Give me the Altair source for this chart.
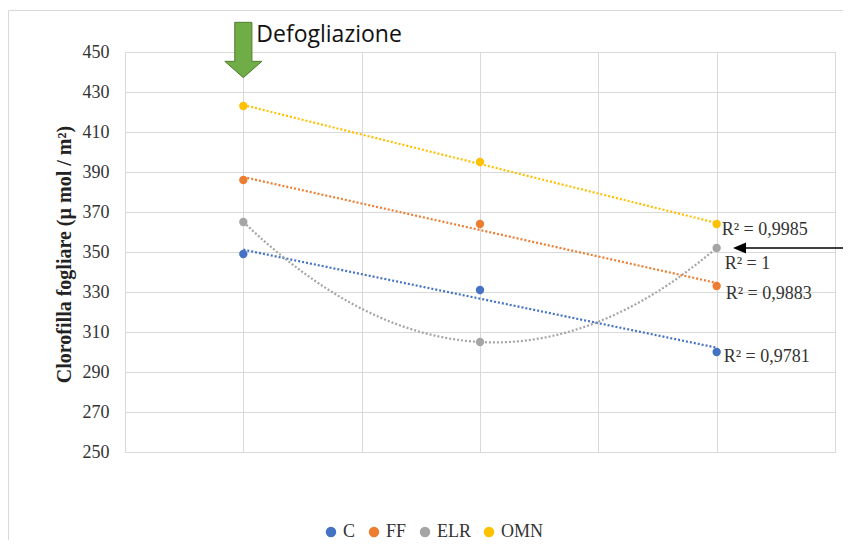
import altair as alt
import pandas as pd

# ---- data ----
series = ["C", "FF", "ELR", "OMN"]
colors = ["#4472C4", "#ED7D31", "#A5A5A5", "#FFC000"]
x_pos = [1, 3, 5]
c_vals = [349, 331, 300]
ff_vals = [386, 364, 333]
elr_vals = [365, 305, 352]
omn_vals = [423, 395, 364]
r2_labels = ["R² = 0,9781", "R² = 0,9883", "R² = 1", "R² = 0,9985"]
y_ticks = [250, 270, 290, 310, 330, 350, 370, 390, 410, 430, 450]
x_grid = [0, 1, 2, 3, 4, 5, 6]
y_title = "Clorofilla fogliare (µ mol / m²)"
annotation_text = "Defogliazione"

rows = []
for s, vals in zip(series, [c_vals, ff_vals, elr_vals, omn_vals]):
    for xv, v in zip(x_pos, vals):
        rows.append({"serie": s, "x": xv, "y": v})
df = pd.DataFrame(rows)
lab_df = pd.DataFrame({"serie": series, "r2": r2_labels})

SERIF = "Liberation Serif"
GRID = "#d9d9d9"

xscale = alt.Scale(domain=[0, 6], nice=False)
yscale = alt.Scale(domain=[250, 450], nice=False, zero=False)
xaxis = alt.Axis(values=x_grid, labels=False, ticks=False, domain=False,
                 grid=True, gridColor=GRID, title=None, labelOverlap=False)
yaxis = alt.Axis(values=y_ticks, ticks=False, domain=False, grid=True,
                 gridColor=GRID, labelFont=SERIF, labelFontSize=18,
                 labelColor="#333333", labelPadding=16, labelOverlap=False,
                 title=y_title, titleFont=SERIF, titleFontSize=20,
                 titleFontWeight="bold", titleColor="#222222",
                 titleAngle=-90, titleX=-61, titleY=202,
                 titleAlign="center", titleBaseline="middle")


def X():
    return alt.X("x:Q", scale=xscale, axis=xaxis)


def Y():
    return alt.Y("y:Q", scale=yscale, axis=yaxis)


cscale = alt.Scale(domain=series, range=colors)

base = alt.Chart(df)

points = base.mark_point(filled=True, size=70, opacity=1).encode(
    x=X(), y=Y(),
    color=alt.Color("serie:N", scale=cscale,
                    legend=alt.Legend(title=None, orient="none", direction="horizontal",
                                      legendX=197, legendY=471, symbolType="circle",
                                      symbolSize=80, labelFont=SERIF, labelFontSize=18,
                                      labelColor="#333333", labelOffset=3,
                                      columnPadding=9, padding=0))
)

lin = base.transform_filter(
    alt.FieldOneOfPredicate(field="serie", oneOf=["C", "FF", "OMN"])
).transform_regression("x", "y", method="linear", groupby=["serie"]).mark_line(
    strokeDash=[2, 2], strokeWidth=2.2
).encode(x=X(), y=Y(), color=alt.Color("serie:N", scale=cscale, legend=None))

poly = base.transform_filter(
    alt.FieldEqualPredicate(field="serie", equal="ELR")
).transform_regression("x", "y", method="poly", order=2, groupby=["serie"]).mark_line(
    strokeDash=[2, 2], strokeWidth=2.2
).encode(x=X(), y=Y(), color=alt.Color("serie:N", scale=cscale, legend=None))

# R² labels next to the last point of each series
offsets = {"C": (7, 5), "FF": (9, 8), "ELR": (8, 16), "OMN": (5, 6)}
label_layers = []
for s in series:
    dx, dy = offsets[s]
    label_layers.append(
        base.transform_filter(alt.datum.x == x_pos[-1])
        .transform_filter(alt.FieldEqualPredicate(field="serie", equal=s))
        .transform_lookup(lookup="serie", from_=alt.LookupData(lab_df, "serie", ["r2"]))
        .mark_text(align="left", baseline="middle", dx=dx, dy=dy, font=SERIF,
                   fontSize=18, color="#333333")
        .encode(x=X(), y=Y(), text="r2:N")
    )

# Green arrow + "Defogliazione"
ann_df = pd.DataFrame({"x": [x_pos[0]], "t": [annotation_text]})
arrow_path = "M -0.31 -1 L 0.31 -1 L 0.31 0.41 L 0.67 0.41 L 0 1 L -0.67 0.41 L -0.31 0.41 Z"
green = alt.Chart(ann_df).mark_point(shape=arrow_path, size=3060, filled=True,
                                     fill="#70AD47", stroke="#4E7D30", strokeWidth=1,
                                     opacity=1).encode(x=X(), y=alt.value(-2))
defo = alt.Chart(ann_df).mark_text(align="left", baseline="alphabetic", dx=13,
                                   font="Open Sans", fontSize=23, color="#111111").encode(
    x=X(), y=alt.value(-10), text="t:N")

# Black arrow pointing at the ELR last point
elr_last = base.transform_filter(alt.datum.x == x_pos[-1]).transform_filter(
    alt.FieldEqualPredicate(field="serie", equal="ELR"))
arrow_line = elr_last.mark_rule(color="black", strokeWidth=1.5).encode(
    x=alt.value(620), x2=alt.value(730), y=Y())
arrow_head = elr_last.mark_point(shape="M -1 0 L 1 -0.85 L 1 0.85 Z", size=169,
                                 filled=True, color="black", opacity=1).encode(
    x=alt.value(614.5), y=Y())

# outer chart-area border
border = alt.Chart(pd.DataFrame({"a": [0]})).mark_rect(
    fill="white", fillOpacity=0, stroke=GRID, strokeWidth=1).encode(
    x=alt.value(-116.5), x2=alt.value(1000), y=alt.value(-41.5), y2=alt.value(1000))

chart = alt.layer(points, lin, poly, *label_layers, green, defo, arrow_line, arrow_head,
                  border).properties(
    width=710, height=400,
    autosize=alt.AutoSizeParams(type="none"),
    padding={"left": 117, "top": 44, "right": 8, "bottom": 88},
).configure_view(stroke=None).configure(background="white")

chart.save("out.html", embed_options={"renderer": "svg", "actions": False})
